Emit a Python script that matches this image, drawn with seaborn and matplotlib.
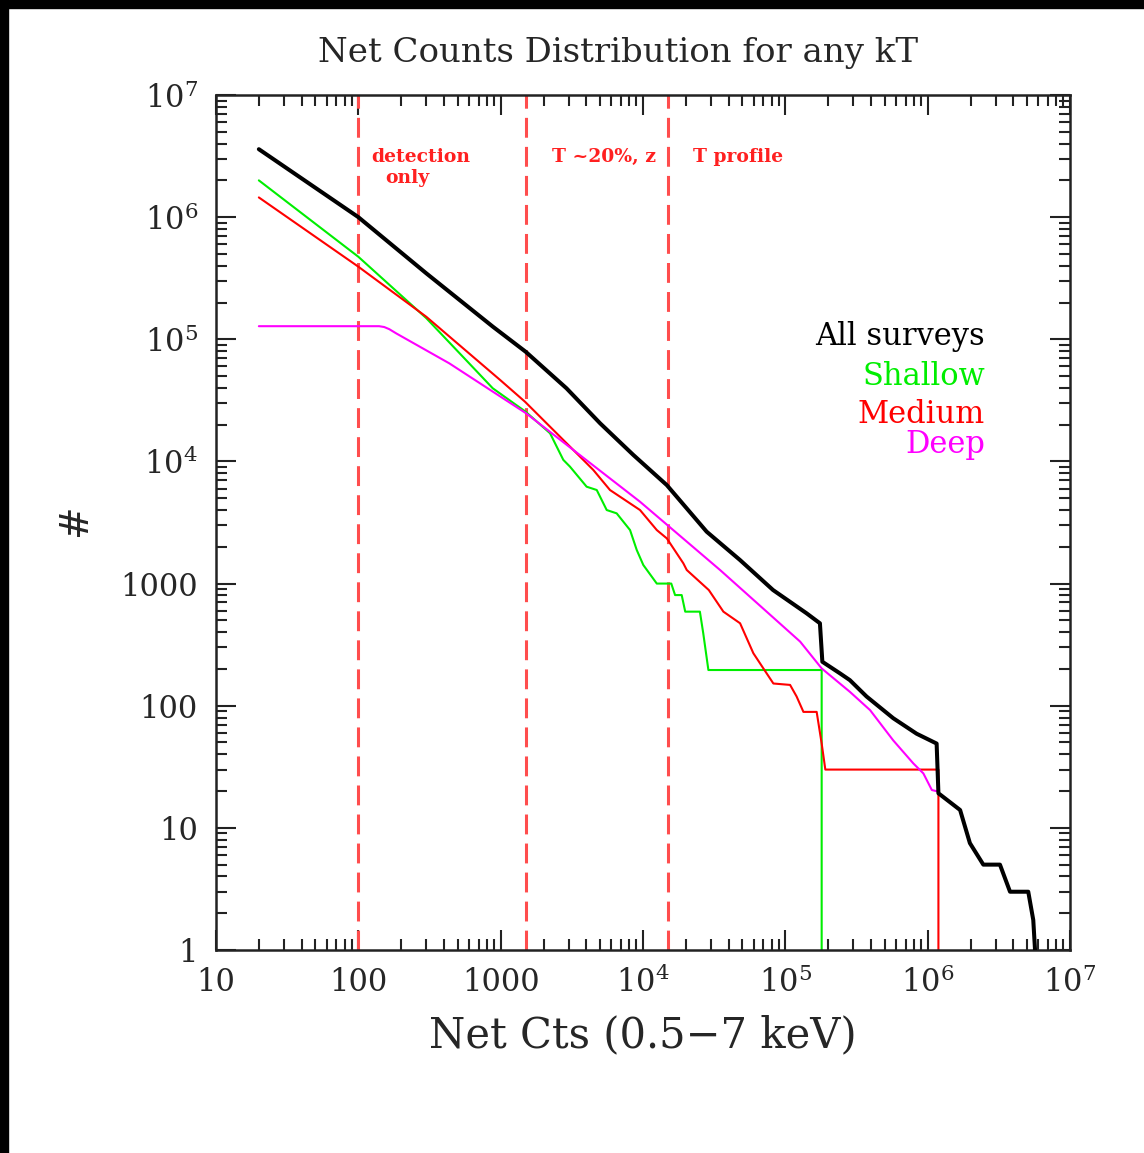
import numpy as np
import pandas as pd
import matplotlib
matplotlib.use("Agg")
import matplotlib.pyplot as plt
from matplotlib.patches import Rectangle
from matplotlib.ticker import LogLocator, NullFormatter
import seaborn as sns

# Cumulative number of clusters above a given net-count threshold
all_x = [20, 100, 300, 880, 1500, 2900, 5000, 8550, 1.47e4, 2.8e4, 4.8e4, 8.2e4,
         1.41e5, 1.75e5, 1.82e5, 2.42e5, 2.84e5, 3.72e5, 5.73e5, 8.36e5, 1.156e6,
         1.19e6, 1.69e6, 1.98e6, 2.46e6, 3.22e6, 3.79e6, 5.09e6, 5.52e6, 5.68e6]
all_y = [3.6e6, 1.0e6, 3.47e5, 1.27e5, 7.9e4, 3.97e4, 2.05e4, 1.13e4, 6400, 2660, 1560, 885,
         571, 473, 229, 184, 162, 119, 79, 59, 49,
         19.2, 14, 7.5, 5, 5, 3, 3, 1.76, 1]

shallow_x = [20, 100, 300, 571, 880, 1500, 2223, 2754, 3069, 4018, 4732, 5559, 6531,
             8110, 9036, 1.005e4, 1.25e4, 1.58e4, 1.68e4, 1.87e4, 1.98e4, 2.51e4,
             2.65e4, 2.88e4, 1.80e5, 1.80e5]
shallow_y = [2.0e6, 4.74e5, 1.49e5, 6.76e4, 3.97e4, 2.55e4, 1.70e4, 1.03e4, 9060, 6209, 5834,
             4000, 3758, 2742, 1884, 1419, 1000, 1000, 805, 805, 589, 589,
             392, 196, 196, 1]

medium_x = [20, 100, 300, 990, 1483, 2904, 4477, 5861, 9528, 1.25e4, 1.47e4, 1.92e4,
            2.03e4, 2.9e4, 3.67e4, 4.81e4, 5.96e4, 7.01e4, 8.24e4, 1.08e5, 1.2e5,
            1.34e5, 1.66e5, 1.80e5, 1.91e5, 1.19e6, 1.19e6]
medium_y = [1.45e6, 3.93e5, 1.53e5, 4.65e4, 3.08e4, 1.41e4, 8511, 5834, 4000, 2742, 2344, 1466,
            1291, 885, 589, 473, 269, 202, 152, 148, 119,
            89, 89, 49, 30, 30, 1]

deep_x = [20, 140, 152, 165, 184, 436, 1507, 9528, 3.48e4, 1.27e5, 1.80e5, 2.84e5, 3.94e5,
          5.73e5, 7.93e5, 9.33e5, 1.07e6, 1.19e6]
deep_y = [1.28e5, 1.28e5, 1.26e5, 1.21e5, 1.12e5, 6.35e4, 2.48e4, 4677, 1291, 335, 202, 130, 92,
          52, 33.7, 27.9, 20.4, 19.8]

regime_edges = [100, 1500, 1.5e4]

x_ticks = [10, 100, 1000, 1e4, 1e5, 1e6, 1e7]
x_tick_labels = ["10", "100", "1000", r"$10^{4}$", r"$10^{5}$", r"$10^{6}$", r"$10^{7}$"]
y_ticks = [1, 10, 100, 1000, 1e4, 1e5, 1e6, 1e7]
y_tick_labels = ["1", "10", "100", "1000", r"$10^{4}$", r"$10^{5}$", r"$10^{6}$", r"$10^{7}$"]

series = [
    ("All surveys", all_x, all_y, "black", 2.9),
    ("Shallow", shallow_x, shallow_y, "#00ee00", 1.5),
    ("Medium", medium_x, medium_y, "#ff0000", 1.5),
    ("Deep", deep_x, deep_y, "#ff00ff", 1.5),
]

sns.set_style("white")
plt.rcParams["font.family"] = ["DejaVu Serif"]
plt.rcParams["mathtext.fontset"] = "dejavuserif"

fig = plt.figure(figsize=(11.44, 11.53), dpi=100)
ax = fig.add_axes([216 / 1144, 1 - 950 / 1153, 854 / 1144, 855 / 1153])

# regime boundaries
for xe in regime_edges:
    ax.axvline(xe, color="#ff4d4d", lw=2.2, dashes=(6.5, 3.0), zorder=1)

for name, xs, ys, col, lw in series:
    df = pd.DataFrame({"x": xs, "y": ys})
    sns.lineplot(data=df, x="x", y="y", ax=ax, color=col, lw=lw, sort=False,
                 estimator=None, zorder=3 if col == "black" else 2)

ax.set_xscale("log")
ax.set_yscale("log")
ax.set_xlim(10, 1e7)
ax.set_ylim(1, 1e7)

ax.set_xticks(x_ticks, x_tick_labels)
ax.set_yticks(y_ticks, y_tick_labels)
ax.xaxis.set_minor_locator(LogLocator(base=10, subs=np.arange(2, 10)))
ax.yaxis.set_minor_locator(LogLocator(base=10, subs=np.arange(2, 10)))
ax.xaxis.set_minor_formatter(NullFormatter())
ax.yaxis.set_minor_formatter(NullFormatter())
ax.tick_params(which="both", direction="in", top=True, right=True, bottom=True,
               left=True, color="#222222")
ax.tick_params(which="major", length=14.4, width=1.5, labelsize=22, pad=12)
ax.tick_params(which="minor", length=8, width=1.5)
ax.tick_params(axis="y", pad=13)
for sp in ax.spines.values():
    sp.set_linewidth(1.8)
    sp.set_color("#222222")

ax.set_title("Net Counts Distribution for any kT", fontsize=24.5, pad=24, x=0.4707)
ax.set_xlabel("Net Cts (0.5\u22127 keV)", fontsize=30)
ax.xaxis.set_label_coords(0.5, -0.0994)
ax.xaxis.label.set_va("center")
ax.set_ylabel("#", fontsize=28)
ax.yaxis.set_label_coords(-0.165, 0.503)
ax.yaxis.label.set_va("center")

# regime annotations
ann_kw = dict(color="#ff2020", fontsize=13.5, fontweight="bold", va="baseline")
ax.text(124, 2.84e6, "detection", **ann_kw)
ax.text(154, 1.9e6, "only", **ann_kw)
ax.text(2285, 2.84e6, "T ~20%, z", **ann_kw)
ax.text(2.25e4, 2.84e6, "T profile", **ann_kw)

# series labels
label_y = [0.7076, 0.6608, 0.616, 0.5809]
for (name, _, _, col, _), yy in zip(series, label_y):
    ax.text(0.9005, yy, name, color=col, fontsize=22, ha="right", va="baseline",
            transform=ax.transAxes)

# dark margin strips along the left and top edges
fig.patches.append(Rectangle((0, 0), 8 / 1144, 1, transform=fig.transFigure,
                             color="black", zorder=10))
fig.patches.append(Rectangle((0, 1 - 8 / 1153), 1, 8 / 1153, transform=fig.transFigure,
                             color="black", zorder=10))

fig.savefig("out.png", dpi=100)
